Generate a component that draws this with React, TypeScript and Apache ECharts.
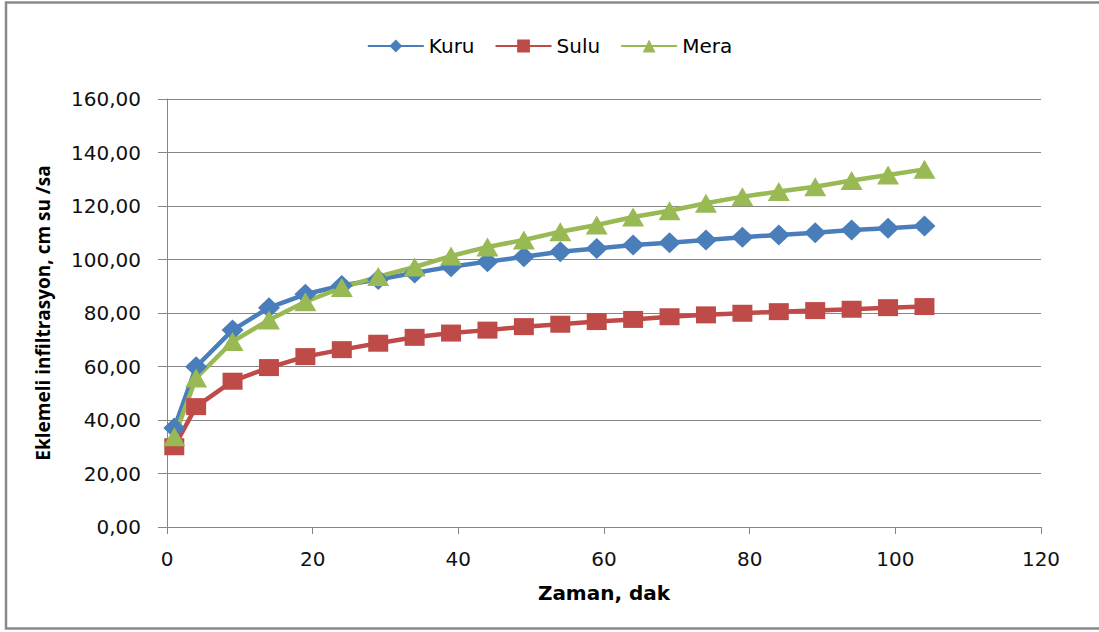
import React, { useEffect, useRef } from "react";
import * as echarts from "echarts";

const timeMin = [1, 4, 9, 14, 19, 24, 29, 34, 39, 44, 49, 54, 59, 64, 69, 74, 79, 84, 89, 94, 99, 104];
const kuru = [37, 59.9, 73.6, 82, 87, 90.3, 92.5, 95, 97.3, 99.2, 101, 102.9, 104.1, 105.4, 106.3, 107.3, 108.3, 109.2, 110, 111, 111.7, 112.5];
const sulu = [30, 45, 54.5, 59.6, 63.7, 66.3, 68.7, 70.9, 72.5, 73.6, 74.9, 75.8, 76.8, 77.6, 78.6, 79.3, 79.9, 80.5, 80.9, 81.4, 82, 82.4];
const mera = [33.7, 55.7, 69.3, 77.4, 84.2, 89.5, 93.6, 97.2, 101.3, 104.7, 107.3, 110.4, 112.9, 115.9, 118.2, 121, 123.5, 125.4, 127.2, 129.5, 131.6, 133.7];
const seriesNames = ["Kuru", "Sulu", "Mera"];

const FONT = "'DejaVu Sans', sans-serif";
const TITLE_FONT = "'Open Sans', sans-serif";

export default function App() {
  const ref = useRef<HTMLDivElement>(null);
  useEffect(() => {
    if (!ref.current) return;
    const chart = echarts.init(ref.current, undefined, { renderer: "svg" });
    const pairs = (ys: number[]) => timeMin.map((x, i) => [x, ys[i]]);
    const mk = (name: string, data: number[], color: string, symbol: string, size: number[]) => ({
      name,
      type: "line",
      data: pairs(data),
      symbol,
      symbolSize: size,
      smooth: false,
      lineStyle: { color, width: 4.5 },
      itemStyle: { color },
      z: 3,
    });
    chart.setOption({
      animation: false,
      backgroundColor: "#ffffff",
      textStyle: { fontFamily: FONT },
      graphic: [
        {
          type: "rect",
          shape: { x: 6, y: 2.5, width: 1100, height: 626 },
          style: { fill: "none", stroke: "#8a8a8a", lineWidth: 2.5 },
          z: 100,
        },
      ],
      legend: {
        top: 31,
        left: "center",
        itemWidth: 56,
        itemHeight: 16,
        itemGap: 20,
        textStyle: { fontSize: 20, color: "#000", fontFamily: FONT },
        data: seriesNames,
      },
      grid: { left: 167, right: 58, top: 99, bottom: 105, containLabel: false },
      xAxis: {
        type: "value",
        min: 0,
        max: 120,
        interval: 20,
        name: "Zaman, dak",
        nameLocation: "middle",
        nameGap: 56,
        nameTextStyle: { fontSize: 20, fontWeight: "bold", color: "#000", fontFamily: FONT },
        axisLine: { show: true, lineStyle: { color: "#868686", width: 1 } },
        axisTick: { show: true, length: 7, lineStyle: { color: "#868686" } },
        axisLabel: { fontSize: 20, color: "#111", margin: 22, fontFamily: FONT },
        splitLine: { show: false },
      },
      yAxis: {
        type: "value",
        min: 0,
        max: 160,
        interval: 20,
        name: "Eklemeli infiltrasyon, cm su /sa",
        nameLocation: "middle",
        nameRotate: 90,
        nameGap: 115,
        nameTextStyle: { fontSize: 19, fontWeight: "bold", color: "#000", fontFamily: TITLE_FONT },
        axisLine: { show: true, lineStyle: { color: "#868686", width: 1 } },
        axisTick: { show: true, length: 9, lineStyle: { color: "#868686" } },
        axisLabel: {
          fontSize: 20,
          color: "#111",
          margin: 26,
          fontFamily: FONT,
          formatter: (v: number) => v.toFixed(2).replace(".", ","),
        },
        splitLine: { show: true, lineStyle: { color: "#868686", width: 1 } },
      },
      series: [
        mk("Kuru", kuru, "#4A7EBB", "diamond", [22, 21]),
        mk("Sulu", sulu, "#BE4B48", "rect", [20, 17]),
        mk("Mera", mera, "#98B954", "triangle", [22, 19]),
      ],
    });
    return () => chart.dispose();
  }, []);
  return (
    <div
      ref={ref}
      style={{ position: "fixed", left: 0, top: 0, width: 1099, height: 632 }}
    />
  );
}
